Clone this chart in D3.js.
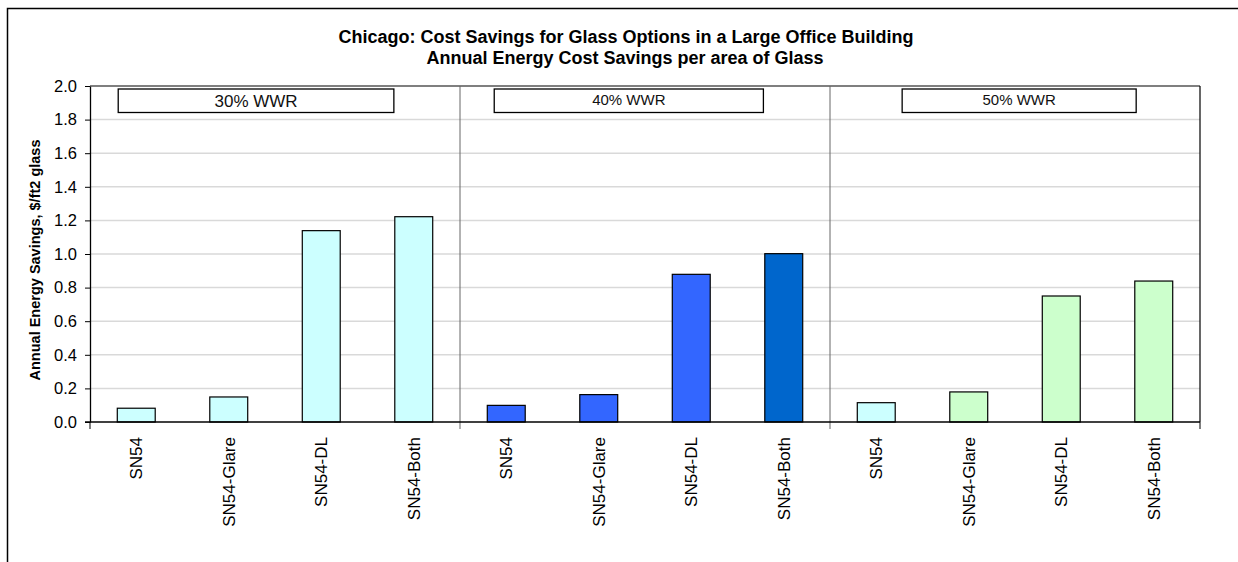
<!DOCTYPE html>
<html>
<head>
<meta charset="utf-8">
<script src="https://cdn.jsdelivr.net/npm/d3@7"></script>
<style>
  body { margin: 0; background: #fff; }
  svg { display: block; font-family: "Liberation Sans", Arial, sans-serif; }
</style>
</head>
<body>
<svg id="chart" width="1238" height="562"></svg>
<script>
// Chart data
const groups = ['30% WWR', '40% WWR', '50% WWR'];
const options = ['SN54', 'SN54-Glare', 'SN54-DL', 'SN54-Both'];
const savings30 = [0.082, 0.149, 1.139, 1.222];
const savings40 = [0.099, 0.163, 0.879, 1.002];
const savings50 = [0.115, 0.179, 0.750, 0.839];
const colors30 = ['#ccffff', '#ccffff', '#ccffff', '#ccffff'];
const colors40 = ['#3366ff', '#3366ff', '#3366ff', '#0066cc'];
const colors50 = ['#ccffff', '#ccffcc', '#ccffcc', '#ccffcc'];
const yTicks = [0, 0.2, 0.4, 0.6, 0.8, 1.0, 1.2, 1.4, 1.6, 1.8, 2.0];

const seriesValues = [savings30, savings40, savings50];
const seriesColors = [colors30, colors40, colors50];

// flatten into one row per bar
let bars = [];
groups.forEach(function(g, gi) {
  options.forEach(function(o, oi) {
    bars.push({ key: g + '|' + o, group: g, gi: gi, label: o, value: seriesValues[gi][oi], color: seriesColors[gi][oi] });
  });
});

const svg = d3.select('#chart');
const margin = { left: 90, right: 1200, top: 86, bottom: 422 };

// outer chart frame (runs off the picture to the right and bottom)
svg.append('rect')
  .attr('x', 7.5).attr('y', 8.5)
  .attr('width', 1300).attr('height', 700)
  .attr('fill', '#fff').attr('stroke', '#000').attr('stroke-width', 1.5);

const x = d3.scaleBand()
  .domain(bars.map(d => d.key))
  .range([margin.left, margin.right])
  .paddingInner(0.59)
  .paddingOuter(0.295);

const y = d3.scaleLinear().domain([0, 2]).range([margin.bottom, margin.top]);

const step = x.step();

// title
svg.append('text')
  .attr('x', 626).attr('y', 43)
  .attr('text-anchor', 'middle')
  .attr('font-size', 18).attr('font-weight', 'bold')
  .text('Chicago:  Cost Savings for Glass Options in a Large Office Building');
svg.append('text')
  .attr('x', 625).attr('y', 64)
  .attr('text-anchor', 'middle')
  .attr('font-size', 18).attr('font-weight', 'bold')
  .text('Annual Energy Cost Savings per area of Glass');

// gridlines
svg.append('g')
  .selectAll('line')
  .data(yTicks.filter(t => t > 0 && t < 2))
  .join('line')
  .attr('x1', margin.left).attr('x2', margin.right)
  .attr('y1', d => y(d)).attr('y2', d => y(d))
  .attr('stroke', '#d9d9d9').attr('stroke-width', 1.5);

// plot frame: top and right
svg.append('line')
  .attr('x1', margin.left).attr('x2', margin.right)
  .attr('y1', y(2)).attr('y2', y(2))
  .attr('stroke', '#000').attr('stroke-width', 1.2);
svg.append('line')
  .attr('x1', margin.right).attr('x2', margin.right)
  .attr('y1', y(2)).attr('y2', y(0))
  .attr('stroke', '#000').attr('stroke-width', 1.2);

// group dividers
const dividers = [1, 2].map(i => margin.left + i * options.length * step);
svg.append('g')
  .selectAll('line')
  .data(dividers)
  .join('line')
  .attr('x1', d => d).attr('x2', d => d)
  .attr('y1', y(2)).attr('y2', y(0) + 7)
  .attr('stroke', '#666').attr('stroke-width', 1);

// group label boxes
const boxes = [
  { l: 0.305, r: 3.285, size: 17, base: 107 },
  { l: 0.37, r: 3.28, size: 15, base: 105 },
  { l: 0.78, r: 3.31, size: 15, base: 105 }
];
const labelG = svg.append('g');
groups.forEach(function(g, gi) {
  const x0 = margin.left + gi * options.length * step;
  const b = boxes[gi];
  labelG.append('rect')
    .attr('x', x0 + b.l * step).attr('y', 89)
    .attr('width', (b.r - b.l) * step).attr('height', 23.5)
    .attr('fill', '#fff').attr('stroke', '#000').attr('stroke-width', 1.3);
  labelG.append('text')
    .attr('x', x0 + (b.l + b.r) / 2 * step).attr('y', b.base)
    .attr('text-anchor', 'middle')
    .attr('font-size', b.size)
    .attr('fill', '#111')
    .text(g);
});

// bars
svg.append('g')
  .selectAll('rect')
  .data(bars)
  .join('rect')
  .attr('x', d => x(d.key))
  .attr('y', d => y(d.value))
  .attr('width', x.bandwidth())
  .attr('height', d => y(0) - y(d.value))
  .attr('fill', d => d.color)
  .attr('stroke', '#000').attr('stroke-width', 1.2);

// y axis
const yAxis = svg.append('g')
  .attr('transform', 'translate(' + margin.left + ',0)')
  .call(d3.axisLeft(y).tickValues(yTicks).tickFormat(d3.format('.1f')).tickSize(5).tickSizeOuter(0));
yAxis.select('.domain').attr('stroke', '#000').attr('stroke-width', 1.3);
yAxis.selectAll('.tick line').attr('stroke', '#000');
yAxis.selectAll('.tick text')
  .attr('font-size', 16.5).attr('font-family', '"Liberation Sans", Arial, sans-serif')
  .attr('fill', '#000').attr('x', -13);

// x axis line
svg.append('line')
  .attr('x1', margin.left - 5).attr('x2', margin.right)
  .attr('y1', y(0)).attr('y2', y(0))
  .attr('stroke', '#000').attr('stroke-width', 1.3);
svg.append('g')
  .selectAll('line')
  .data([margin.left, margin.right])
  .join('line')
  .attr('x1', d => d).attr('x2', d => d)
  .attr('y1', y(0)).attr('y2', y(0) + 7)
  .attr('stroke', '#000').attr('stroke-width', 1);

// x labels (rotated)
svg.append('g')
  .selectAll('text')
  .data(bars)
  .join('text')
  .attr('transform', d => 'translate(' + (x(d.key) + x.bandwidth() / 2 + 6) + ',' + (y(0) + 15) + ') rotate(-90)')
  .attr('text-anchor', 'end')
  .attr('font-size', 17)
  .attr('fill', '#000')
  .text(d => d.label);

// y axis title
svg.append('text')
  .attr('transform', 'translate(40,' + ((y(0) + y(2)) / 2 + 6) + ') rotate(-90)')
  .attr('text-anchor', 'middle')
  .attr('font-size', 14.5).attr('font-weight', 'bold')
  .text('Annual Energy Savings, $/ft2 glass');
</script>
</body>
</html>
